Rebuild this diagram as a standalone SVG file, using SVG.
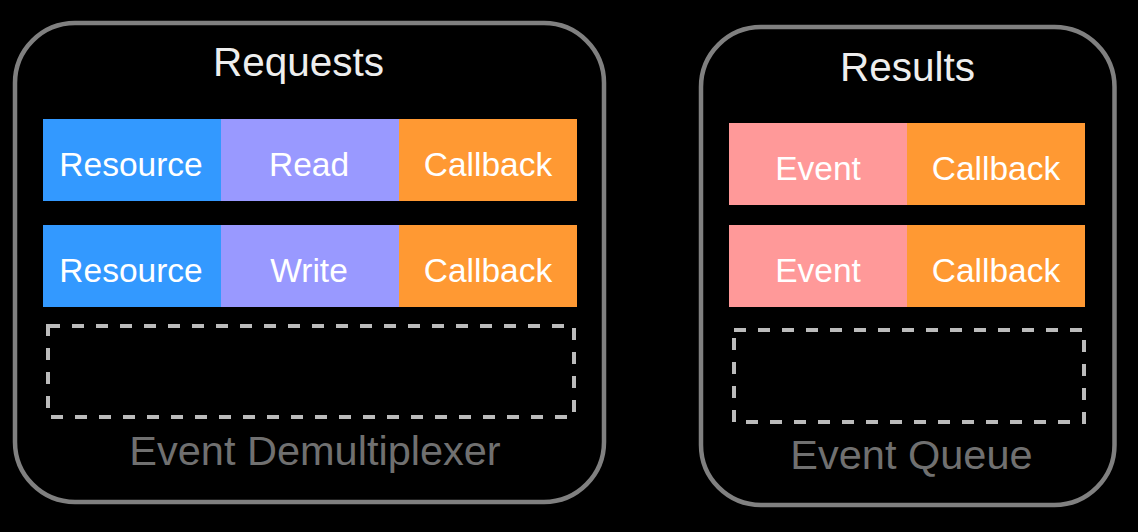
<svg xmlns="http://www.w3.org/2000/svg" width="1138" height="532" viewBox="0 0 1138 532">
  <style>
    .frame { fill: none; stroke: #808080; stroke-width: 4.5; }
    .slot { fill: none; stroke: #bbbbbb; stroke-width: 4; stroke-dasharray: 12 12; }
    .title { font-family: "Liberation Sans", Arial, sans-serif; font-size: 40.5px; fill: #eeeeee; text-anchor: middle; }
    .caption { font-family: "Liberation Sans", Arial, sans-serif; font-size: 41.5px; fill: #707070; text-anchor: middle; }
    .cell { font-family: "Liberation Sans", Arial, sans-serif; font-size: 33.5px; fill: #ffffff; text-anchor: middle; }
    .res { fill: #3399ff; }
    .op { fill: #9999ff; }
    .cb { fill: #ff9933; }
    .ev { fill: #ff9999; }
  </style>
  <rect width="1138" height="532" fill="#000000"/>

  <g id="event-demultiplexer">
    <rect class="frame" x="15" y="23" width="589" height="479" rx="60" ry="60"/>
    <text class="title" x="298.5" y="76">Requests</text>
    <g id="request-read">
      <rect class="res" x="43" y="119" width="178" height="82"/>
      <rect class="op" x="221" y="119" width="178" height="82"/>
      <rect class="cb" x="399" y="119" width="178" height="82"/>
      <text class="cell" x="131" y="176">Resource</text>
      <text class="cell" x="309" y="176">Read</text>
      <text class="cell" x="488" y="176">Callback</text>
    </g>
    <g id="request-write">
      <rect class="res" x="43" y="225" width="178" height="82"/>
      <rect class="op" x="221" y="225" width="178" height="82"/>
      <rect class="cb" x="399" y="225" width="178" height="82"/>
      <text class="cell" x="131" y="282">Resource</text>
      <text class="cell" x="309" y="282">Write</text>
      <text class="cell" x="488" y="282">Callback</text>
    </g>
    <rect id="request-slot" class="slot" x="48" y="326" width="526" height="91"/>
    <text class="caption" x="315" y="465">Event Demultiplexer</text>
  </g>

  <g id="event-queue">
    <rect class="frame" x="701" y="27" width="413.5" height="478" rx="60" ry="60"/>
    <text class="title" x="907.5" y="81">Results</text>
    <g id="result-1">
      <rect class="ev" x="729" y="123" width="178" height="82"/>
      <rect class="cb" x="907" y="123" width="178" height="82"/>
      <text class="cell" x="818" y="180">Event</text>
      <text class="cell" x="996" y="180">Callback</text>
    </g>
    <g id="result-2">
      <rect class="ev" x="729" y="225" width="178" height="82"/>
      <rect class="cb" x="907" y="225" width="178" height="82"/>
      <text class="cell" x="818" y="282">Event</text>
      <text class="cell" x="996" y="282">Callback</text>
    </g>
    <rect id="result-slot" class="slot" x="734" y="330" width="350" height="92"/>
    <text class="caption" x="911.5" y="469">Event Queue</text>
  </g>

  <g id="connectors"/>
</svg>
